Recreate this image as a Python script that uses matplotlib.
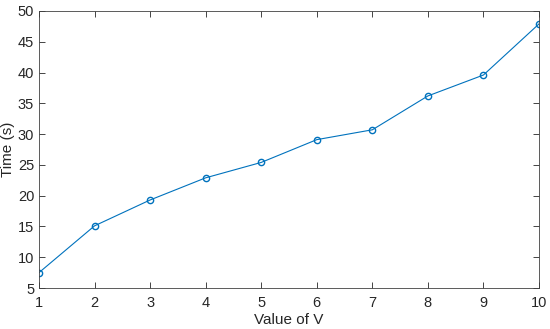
import numpy as np
import matplotlib
matplotlib.use('Agg')
import matplotlib.pyplot as plt

# data
v_values = [1, 2, 3, 4, 5, 6, 7, 8, 9, 10]
times = [7.5, 15.1, 19.3, 22.9, 25.4, 29.1, 30.7, 36.2, 39.6, 47.9]

plt.rcParams['font.family'] = ['Liberation Sans', 'DejaVu Sans']

fig = plt.figure(figsize=(5.5, 3.29), dpi=100)
ax = fig.add_axes([0.0709, 0.1246, 0.9091, 0.842])

ax.plot(v_values, times, color='#0072BD', linewidth=0.8, marker='o',
        markersize=4.5, markerfacecolor='none', markeredgewidth=1.0)

ax.set_xlim(1, 10)
ax.set_ylim(5, 50)
ax.set_xticks(np.arange(1, 11))
ax.set_yticks(np.arange(5, 51, 5))
ax.tick_params(direction='in', top=True, right=True, labelsize=10.5,
               colors='#262626', length=4, width=0.6)
ax.tick_params(axis='x', pad=6)
for s in ax.spines.values():
    s.set_color('#404040')
    s.set_linewidth(0.6)
ax.set_xlabel('Value of V', fontsize=11, color='#262626', labelpad=2)
ax.set_ylabel('Time (s)', fontsize=11, color='#262626', labelpad=2)

fig.savefig('out.png', dpi=100)
